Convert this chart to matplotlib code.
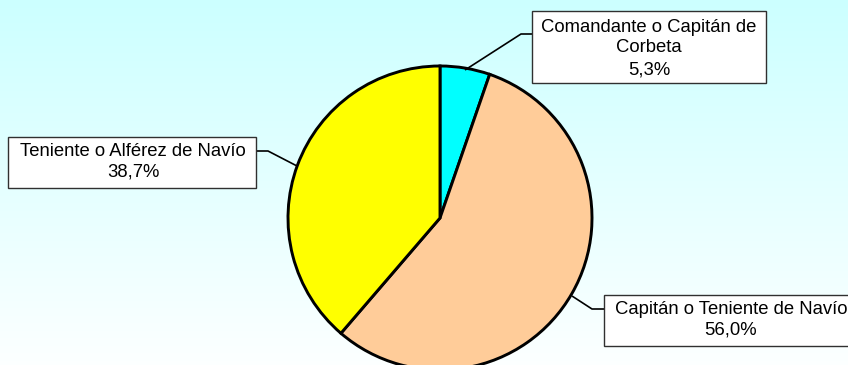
import numpy as np
import matplotlib
matplotlib.use("Agg")
import matplotlib.pyplot as plt
from matplotlib.patches import Rectangle

# Distribution by rank
categories = ["Comandante o Capitán de\nCorbeta",
              "Capitán o Teniente de Navío",
              "Teniente o Alférez de Navío"]
shares = [5.3, 56.0, 38.7]
colors = ["#00FFFF", "#FFCC99", "#FFFF00"]

W, H = 848, 365
fig = plt.figure(figsize=(W / 100, H / 100), dpi=100)
ax = fig.add_axes([0, 0, 1, 1])
ax.set_xlim(0, W)
ax.set_ylim(0, H)
ax.axis("off")

# vertical background gradient: light cyan at the top fading to white
top = np.array([0.80, 1.0, 1.0])
bot = np.array([0.99, 1.0, 1.0])
t = np.linspace(0, 1, 256)[:, None]
grad = (top * (1 - t) + bot * t)[:, None, :]
ax.imshow(grad, extent=[0, W, 0, H], aspect="auto", origin="upper", zorder=0)

def py(y):
    return H - y

cx, cy, r = 440, py(218), 152
wedges, _ = ax.pie(shares, colors=colors, startangle=90, counterclock=False,
                   center=(cx, cy), radius=r, frame=True,
                   wedgeprops=dict(edgecolor="black", linewidth=2.1))
for w in wedges:
    w.set_zorder(2)
ax.set_xlim(0, W)
ax.set_ylim(0, H)
ax.set_aspect("auto")
ax.axis("off")

font = dict(family=["Liberation Sans", "DejaVu Sans"], fontsize=13.3, color="black")

def label(box, text_cx, lines_y, lines, leader):
    x0, y0, x1, y1 = box
    ax.add_patch(Rectangle((x0, py(y1)), x1 - x0, y1 - y0, facecolor="white",
                           edgecolor="#303030", linewidth=1.0, zorder=4))
    for yy, s in zip(lines_y, lines):
        ax.text(text_cx, py(yy), s, ha="center", va="center", zorder=5, **font)
    xs = [p[0] for p in leader]
    ys = [py(p[1]) for p in leader]
    ax.plot(xs, ys, color="black", linewidth=1.2, zorder=3, solid_capstyle="butt")

def pct(v):
    return f"{v:.1f}".replace(".", ",") + "%"

# Comandante o Capitán de Corbeta
label((532, 11, 766, 83), 649, [27, 48, 70],
      categories[0].split("\n") + [pct(shares[0])],
      [(532, 34), (521, 34), (465, 70)])
# Capitán o Teniente de Navío
label((604, 295, 858, 346), 731, [309, 330],
      [categories[1], pct(shares[1])],
      [(604, 309), (592, 309), (572, 296)])
# Teniente o Alférez de Navío
label((8, 137, 256, 188), 133, [151, 172],
      [categories[2], pct(shares[2])],
      [(256, 151), (268, 151), (297, 166)])

fig.savefig("out.png", dpi=100)
